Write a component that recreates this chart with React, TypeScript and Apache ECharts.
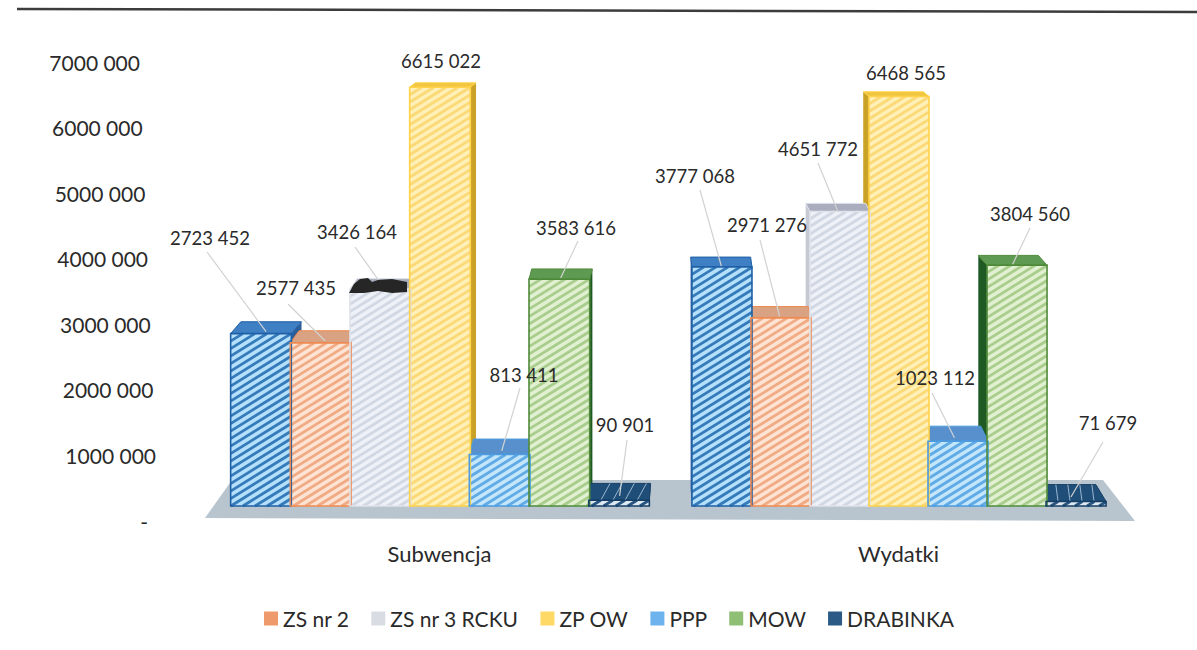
import React, { useEffect, useRef } from "react";
import * as echarts from "echarts";

const categories = ["Subwencja", "Wydatki"];
const seriesNames = ["Seria 1", "ZS nr 2", "ZS nr 3 RCKU", "ZP OW", "PPP", "MOW", "DRABINKA"];
const legendNames = ["ZS nr 2", "ZS nr 3 RCKU", "ZP OW", "PPP", "MOW", "DRABINKA"];
const seria1 = [2723452, 3777068];
const zsNr2 = [2577435, 2971276];
const zsNr3 = [3426164, 4651772];
const zpOw = [6615022, 6468565];
const ppp = [813411, 1023112];
const mow = [3583616, 3804560];
const drabinka = [90901, 71679];
const allValues = [seria1, zsNr2, zsNr3, zpOw, ppp, mow, drabinka];

const legendColors = ["#ee9a6c", "#d9dce3", "#ffd966", "#6db3ee", "#8fbf75", "#2a5a85"];
const frontFill = ["#b4e0fb", "#fde3d3", "#eef1f7", "#fff0b8", "#c3e6fb", "#e0f0d0", "#dfe9f2"];
const stripe = ["#2e75b6", "#f0a880", "#d0d6e2", "#fbd773", "#5ba7e4", "#a5ca88", "#1f4e79"];
const border = ["#1f5fa5", "#ee8a50", "#dfe2ea", "#ffd24a", "#4a9be0", "#4f8a3a", "#163f66"];
const topFill = ["#3f7fc4", "#d9a282", "#a9adbd", "#f0c63f", "#5790cc", "#5f9a52", "#1f4e79"];
const sideFill = ["#2c5f9a", "#c07a50", "#c6c9d4", "#c9a227", "#3b6fa8", "#1f5a24", "#163f66"];
const bandShare = [0.91, 0.9];

// label anchor and leader start, in page pixels: [series][category]
const labelX = [[210, 695], [296, 767], [357, 818], [441, 906], [524, 935], [576, 1030], [625, 1108]];
const labelY = [[238, 176], [288, 225], [232, 149], [61, 73], [375, 378], [228, 214], [425, 423]];
const leadX = [[207, 700], [288, 760], [355, 818], [0, 0], [520, 932], [578, 1030], [627, 1103]];
const leadY = [[252, 190], [304, 240], [247, 163], [0, 0], [388, 393], [241, 228], [440, 442]];

const fmt = (v: number) => {
  const s = String(v);
  return s.length > 3 ? s.slice(0, -3) + " " + s.slice(-3) : s;
};

const FONT = "Lato";

function hatch(x0: number, x1: number, top: number, bottom: number, color: string) {
  const m = 0.62;
  const period = 7.5;
  const w = x1 - x0;
  const out: any[] = [];
  for (let c = top; c < bottom + m * w; c += period) {
    const sx = c <= bottom ? x0 : x0 + (c - bottom) / m;
    const sy = c <= bottom ? c : bottom;
    const rawEnd = x0 + (c - top) / m;
    const ex = Math.min(rawEnd, x1);
    const ey = rawEnd > x1 ? c - m * w : top;
    out.push({
      type: "line",
      z2: 11,
      shape: { x1: sx, y1: sy, x2: ex, y2: ey },
      style: { stroke: color, lineWidth: 2.8, opacity: 0.95 },
    });
  }
  return out;
}

function renderBar(params: any, api: any) {
  const s = params.seriesIndex;
  const c = api.value(0);
  const v = api.value(1);
  const [xc, base] = api.coord([c, 0]);
  const top = api.coord([c, v])[1];
  const band = api.size([1, 0])[0];
  const slot = (band * bandShare[c]) / 7;
  const x0 = xc + (s - 3.5) * slot;
  const x1 = x0 + slot + 1;
  const mid = (x0 + x1) / 2;
  const dx = (668 - mid) * 0.025;
  // the top face flattens as a bar nears eye level
  const depth = 17 - v * 1.9e-6;
  const children: any[] = [];
  children.push({
    type: "polygon",
    z2: 2,
    shape: { points: [[x0, top], [x1, top], [x1 + dx, top - depth], [x0 + dx, top - depth]] },
    style: { fill: topFill[s], stroke: border[s], lineWidth: 1 },
  });
  if (s === 6) {
    for (let k = 1; k < 5; k++) {
      const px = x0 + ((x1 - x0) * k) / 5;
      children.push({
        type: "line",
        z2: 3,
        shape: { x1: px, y1: top, x2: px + dx + 8, y2: top - depth },
        style: { stroke: "#9db8cf", lineWidth: 1 },
      });
    }
  }
  const sx = dx > 0 ? x1 : x0;
  children.push({
    type: "polygon",
    z2: 1,
    shape: { points: [[sx, top], [sx + dx, top - depth], [sx + dx, base - 17], [sx, base]] },
    style: { fill: sideFill[s] },
  });
  children.push({
    type: "rect",
    z2: 10,
    shape: { x: x0, y: top, width: x1 - x0, height: base - top },
    style: { fill: frontFill[s] },
  });
  children.push(...hatch(x0, x1, top, base, stripe[s]));
  children.push({
    type: "rect",
    z2: 12,
    shape: { x: x0, y: top, width: x1 - x0, height: base - top },
    style: { fill: "none", stroke: border[s], lineWidth: 1.6 },
  });
  if (leadX[s][c] > 0) {
    children.push({
      type: "line",
      z2: 15,
      shape: { x1: leadX[s][c], y1: leadY[s][c], x2: mid + dx / 2, y2: top - depth / 2 + 4 },
      style: { stroke: "#d2d2d2", lineWidth: 1.2 },
    });
  }
  children.push({
    type: "text",
    z2: 20,
    style: {
      x: labelX[s][c],
      y: labelY[s][c],
      text: fmt(v),
      fill: "#2a2a2a",
      font: `18.5px ${FONT}`,
      align: "center",
      verticalAlign: "middle",
    },
  });
  return { type: "group", children };
}

const tickShift = (v: number) => (v === 0 ? 8 : (v / 1000000 - 1) * 2.67);

export default function App() {
  const ref = useRef<HTMLDivElement>(null);
  useEffect(() => {
    const chart = echarts.init(ref.current!, undefined, { renderer: "svg" });
    const rich: any = {};
    for (let i = 0; i <= 7; i++) {
      rich["r" + i] = {
        fontFamily: FONT,
        fontSize: 21,
        color: "#2a2a2a",
        padding: [0, tickShift(i * 1000000), 0, 0],
      };
    }
    chart.setOption({
      animation: false,
      backgroundColor: "#ffffff",
      grid: { left: 210, right: 69, top: 62, bottom: 129, containLabel: false },
      xAxis: {
        type: "category",
        data: categories,
        axisLine: { show: false },
        axisTick: { show: false },
        axisLabel: { margin: 21, fontFamily: FONT, fontSize: 22, color: "#2a2a2a" },
      },
      yAxis: [
        {
          type: "value",
          min: 0,
          max: 7000000,
          interval: 1000000,
          axisLine: { show: false },
          axisTick: { show: false },
          splitLine: { show: false },
          axisLabel: {
            margin: 54,
            rich,
            formatter: (v: number) => `{r${v / 1000000}|${v === 0 ? "-" : fmt(v)}}`,
          },
        },
        { type: "value", show: false, min: -237000, max: 7014000, splitLine: { show: false } },
      ],
      legend: {
        data: legendNames,
        left: 259,
        top: 603,
        icon: "rect",
        itemWidth: 14,
        itemHeight: 14,
        itemGap: 22,
        textStyle: { fontFamily: FONT, fontSize: 21, color: "#2a2a2a", padding: [0, 0, 0, 0] },
      },
      graphic: [
        {
          type: "line",
          shape: { x1: 17, y1: 9, x2: 1197, y2: 12 },
          style: { stroke: "#3c3c3c", lineWidth: 2.5 },
        },
        {
          type: "polygon",
          shape: { points: [[205, 518], [232, 480], [1103, 480], [1135, 521]] },
          style: { fill: "#b8c4ce" },
        },
        {
          type: "polygon",
          z: 100,
          shape: { points: [[349, 293], [354, 284], [360, 279], [368, 278], [372, 282], [378, 280], [392, 279], [407, 282], [407, 292], [392, 293], [378, 291], [364, 293]] },
          style: { fill: "#262626" },
        },
      ],
      series: seriesNames.map((name, i) => ({
        name,
        type: "custom",
        coordinateSystem: "cartesian2d",
        xAxisIndex: 0,
        yAxisIndex: 1,
        itemStyle: { color: i === 0 ? stripe[0] : legendColors[i - 1] },
        encode: { x: 0, y: 1 },
        data: allValues[i].map((v, c) => [c, v]),
        renderItem: renderBar,
      })),
    });
    return () => chart.dispose();
  }, []);
  return (
    <div
      ref={ref}
      style={{ position: "absolute", left: 0, top: 0, width: 1197, height: 650 }}
    />
  );
}
